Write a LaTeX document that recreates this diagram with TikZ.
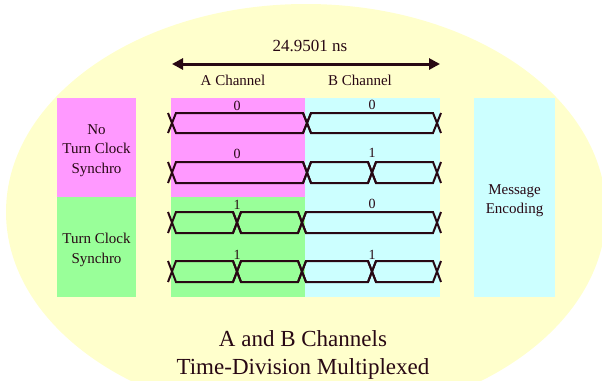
\documentclass[tikz,border=0pt]{standalone}
\usepackage{fontspec}
\setmainfont{Liberation Serif}
\usetikzlibrary{arrows.meta}
\definecolor{ink}{RGB}{40,8,20}
\definecolor{bgyellow}{RGB}{255,255,204}
\definecolor{boxpink}{RGB}{255,153,255}
\definecolor{boxgreen}{RGB}{153,255,153}
\definecolor{boxcyan}{RGB}{204,255,255}
\begin{document}
\begin{tikzpicture}[x=1pt,y=-1pt,
  sig/.style={draw=ink,line width=2pt,line join=miter},
  bit/.style={text=ink,font=\fontsize{14}{16}\selectfont,inner sep=0pt},
  lbl/.style={text=ink,font=\fontsize{15}{19.5}\selectfont,align=center,inner sep=0pt},
  sidebox/.style={inner sep=0pt,anchor=center},
]
\useasboundingbox (0,0) rectangle (602,380);
% background ellipse
\fill[bgyellow] (306,212) ellipse [x radius=300, y radius=208];
% channel areas
\fill[boxpink] (171,98) rectangle (305,197);
\fill[boxgreen] (171,197) rectangle (305,297);
\fill[boxcyan] (305,98) rectangle (440,297);
% side boxes
\node[sidebox,fill=boxpink,minimum width=79pt,minimum height=99pt] (nosync) at (96.5,147.5) {};
\node[sidebox,fill=boxgreen,minimum width=79pt,minimum height=100pt] (sync) at (96.5,247) {};
\node[sidebox,fill=boxcyan,minimum width=81pt,minimum height=199pt] (msg) at (514.5,197.5) {};
\node[lbl] (nosynctext) at (96.5,150.5) {No\\Turn Clock\\Synchro};
\node[lbl] (synctext) at (96.5,250) {Turn Clock\\Synchro};
\node[lbl] (msgtext) at (514.5,200.5) {Message\\Encoding};
% period arrow
\coordinate (arrL) at (172,64);
\coordinate (arrR) at (440,64);
\draw[ink,line width=3pt,{Triangle[length=11pt,width=11pt]}-{Triangle[length=11pt,width=11pt]}] (arrL) -- (arrR);
\node[text=ink,font=\fontsize{17}{20}\selectfont,inner sep=0pt] (period) at (310,46) {24.9501 ns};
\node[lbl] (achan) at (233,80) {A Channel};
\node[lbl] (bchan) at (360,80) {B Channel};
% signals
\foreach \t/\b/\segs in {113/133/{172/307,307/437},
                          162/183/{172/307,307/372,372/437},
                          212/233/{172/237,237/302,302/437},
                          261/282/{172/237,237/302,302/372,372/437}}{
  \foreach \p/\q in \segs {
    \draw[sig] (\p-4,\b) -- (\p+4,\t) -- (\q-4,\t) -- (\q+4,\b);
    \draw[sig] (\p-4,\t) -- (\p+4,\b) -- (\q-4,\b) -- (\q+4,\t);
  }
}
% bit labels
\node[bit] (r1a) at (237,106) {0};
\node[bit] (r1b) at (372,105) {0};
\node[bit] (r2a) at (237,154) {0};
\node[bit] (r2b) at (372,153) {1};
\node[bit] (r3a) at (237,205) {1};
\node[bit] (r3b) at (372,204) {0};
\node[bit] (r4a) at (237,255) {1};
\node[bit] (r4b) at (372,255) {1};
% caption
\node[text=ink,font=\fontsize{23}{28}\selectfont,align=center,inner sep=0pt] (caption) at (303,354.5) {A and B Channels\\Time-Division Multiplexed};
\end{tikzpicture}
\end{document}
